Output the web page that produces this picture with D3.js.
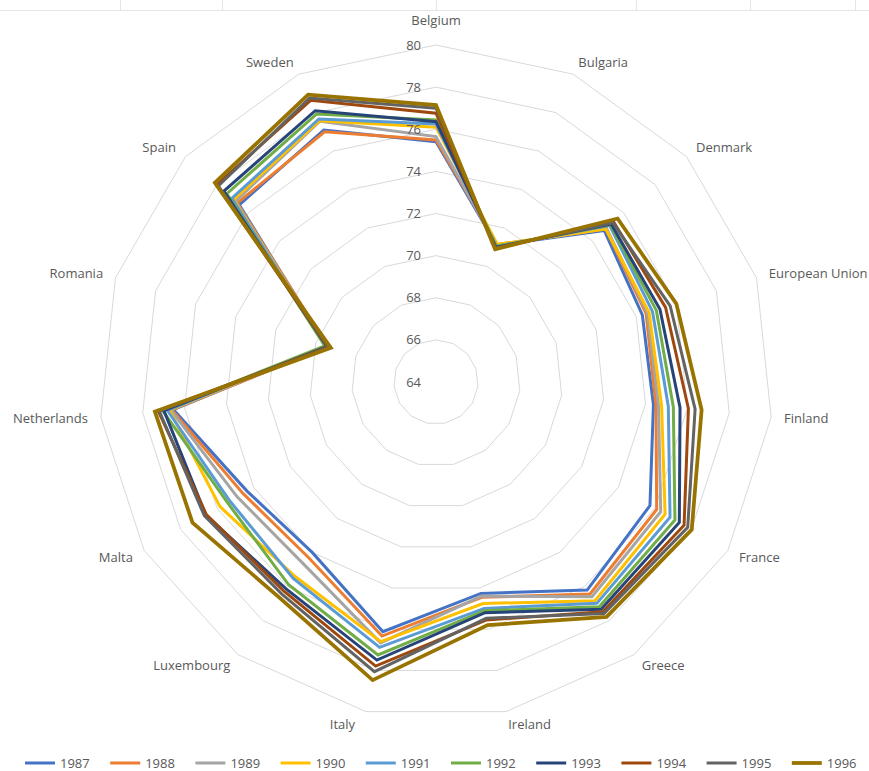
<!DOCTYPE html>
<html><head><meta charset="utf-8">
<script src="https://cdn.jsdelivr.net/npm/d3@7"></script>
<style>body{margin:0;background:#fff}svg{display:block}text{font-family:"Open Sans",sans-serif}</style>
</head><body><svg id="c" width="869" height="771"></svg>
<script>
const categories = ["Belgium","Bulgaria","Denmark","European Union","Finland","France","Greece","Ireland","Italy","Luxembourg","Malta","Netherlands","Romania","Spain","Sweden"];
const years = ["1987","1988","1989","1990","1991","1992","1993","1994","1995","1996"];
//            Belg  Bulg   Denm   EU     Finl   Fran   Gree   Irel   Ital   Luxe   Malt   Neth   Roma   Spai   Swed
const v1987 = [75.41,71.10,74.75,74.30,74.38,75.73,76.21,74.26,76.12,74.00,74.36,76.54,69.45,76.57,77.10];
const v1988 = [75.49,71.15,74.85,74.49,74.50,76.10,76.44,74.45,76.33,74.30,74.58,76.62,69.40,76.70,77.00];
const v1989 = [75.65,71.10,74.90,74.56,74.62,76.32,76.60,74.39,76.66,74.69,74.90,76.67,69.45,76.82,77.55];
const v1990 = [76.10,71.15,74.85,74.64,74.77,76.56,76.84,74.75,76.60,75.40,75.84,76.73,69.50,76.93,77.58];
const v1991 = [76.25,71.05,75.10,74.81,75.09,76.83,76.99,74.99,76.88,75.53,75.30,76.83,69.50,77.04,77.67];
const v1992 = [76.44,71.05,75.15,75.00,75.33,77.10,77.19,75.10,77.25,75.90,75.44,77.05,69.55,77.36,77.93];
const v1993 = [76.36,71.00,75.20,75.18,75.65,77.34,77.34,75.20,77.50,76.13,76.62,76.99,69.45,77.55,78.10];
const v1994 = [76.76,70.95,75.35,75.46,76.05,77.60,77.48,75.55,77.79,76.28,76.59,77.26,69.40,78.00,78.64];
const v1995 = [77.00,70.95,75.30,75.69,76.37,77.80,77.58,75.47,78.06,76.45,76.70,77.21,69.35,77.91,78.76];
const v1996 = [77.15,70.90,75.60,76.00,76.68,78.02,77.78,75.80,78.47,76.65,77.35,77.42,69.25,78.13,78.93];
const seriesValues = [v1987,v1988,v1989,v1990,v1991,v1992,v1993,v1994,v1995,v1996];
const tickValues = [64,66,68,70,72,74,76,78,80];
const colors = ["#4472C4","#ED7D31","#A5A5A5","#FFC000","#5B9BD5","#70AD47","#264478","#9E480E","#636363","#997300"];

const svg = d3.select("#c");
const cx = 436, cy = 382;
const r = d3.scaleLinear().domain([64,80]).range([0,337]);
const angle = d3.scaleLinear().domain([0,categories.length]).range([0,2*Math.PI]);

// spreadsheet cell border remnants at top
svg.append("line").attr("x1",0).attr("x2",869).attr("y1",10.5).attr("y2",10.5).attr("stroke","#e6e6e6");
[120,222,436,636,750,855].forEach(x=>svg.append("line").attr("x1",x+0.5).attr("x2",x+0.5).attr("y1",0).attr("y2",10).attr("stroke","#e6e6e6"));

const g = svg.append("g").attr("transform",`translate(${cx},${cy})`);

const ring = d3.lineRadial().angle((d,i)=>angle(i)).radius(d=>r(d)).curve(d3.curveLinearClosed);
tickValues.filter(t=>t>64).forEach(t=>{
  g.append("path").attr("d",ring(categories.map(()=>t))).attr("fill","none").attr("stroke","#d9d9d9").attr("stroke-width",1);
});

// series
seriesValues.forEach((vals,k)=>{
  g.append("path").attr("d",ring(vals)).attr("fill","none").attr("stroke",colors[k])
   .attr("stroke-width",k===9?3.75:3).attr("stroke-linejoin","miter");
});

// tick labels
tickValues.forEach(t=>{
  g.append("text").attr("x",-15).attr("y",-r(t)).attr("dy","0.35em").attr("text-anchor","end")
   .attr("font-size",13).attr("fill","#595959").text(t);
});

// category labels
const R = r(80)+13;
categories.forEach((c,i)=>{
  const a = angle(i), s = Math.sin(a), co = Math.cos(a);
  let x = R*s, y = -R*co, anchor;
  if (Math.abs(s) < 0.01) { anchor = "middle"; y -= 12; }
  else if (Math.abs(s) < 0.3) { anchor = "middle"; x += s*100; }
  else anchor = s>0 ? "start" : "end";
  g.append("text").attr("x",x).attr("y",y).attr("dy","0.35em").attr("text-anchor",anchor)
   .attr("font-size",13).attr("fill","#595959").text(c);
});

// legend
const lg = svg.append("g");
years.forEach((y,i)=>{
  const x0 = 25 + i*85.2;
  lg.append("line").attr("x1",x0).attr("x2",x0+30).attr("y1",763).attr("y2",763)
    .attr("stroke",colors[i]).attr("stroke-width",i===9?3.75:3);
  lg.append("text").attr("x",x0+35).attr("y",763).attr("dy","0.35em").attr("font-size",13)
    .attr("fill","#595959").text(y);
});
</script></body></html>
